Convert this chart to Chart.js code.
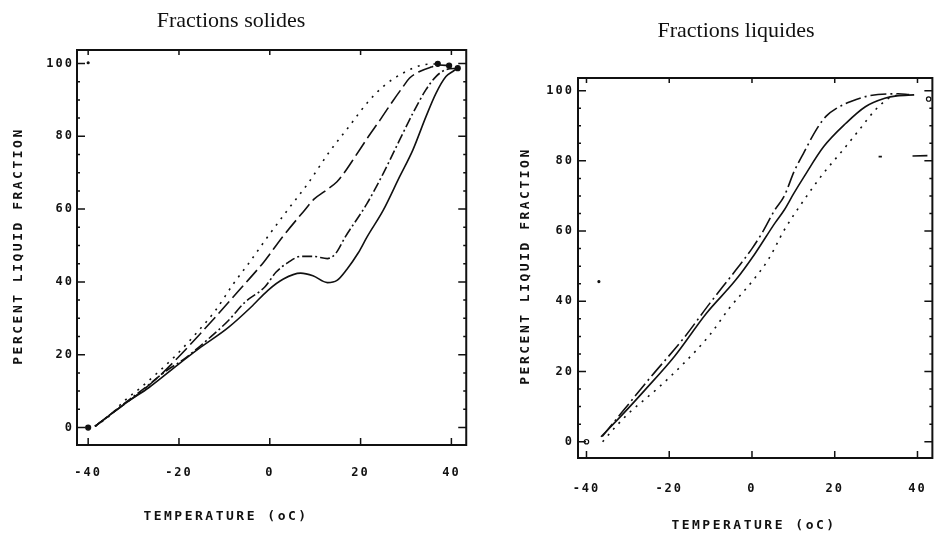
<!DOCTYPE html>
<html>
<head>
<meta charset="utf-8">
<script src="https://cdn.jsdelivr.net/npm/chart.js@4.4.1/dist/chart.umd.min.js"></script>
<style>
html, body { margin: 0; padding: 0; background: #fff; }
#zone { position: relative; width: 949px; height: 534px; overflow: hidden; }
canvas { position: absolute; top: 0; }
#solides { left: 0; }
#liquides { left: 480px; }
</style>
</head>
<body>
<div id="zone">
  <canvas id="solides" width="480" height="534"></canvas>
  <canvas id="liquides" width="469" height="534"></canvas>
</div>
<script>
// graduations des axes
const xTicks = [-40, -20, 0, 20, 40];
const yTicks = [0, 20, 40, 60, 80, 100];
const yMinor = [5, 10, 15, 25, 30, 35, 45, 50, 55, 65, 70, 75, 85, 90, 95];

// Fractions solides : [temperature, % liquide]
const solPlein = [[-38.5,0.3],[-37.4,1.4],[-31.4,7.0],[-26.6,11.0],[-20,17.5],[-15.7,21.6],[-9.1,27.5],[-4.1,33.1],[-0.4,37.7],[3,40.8],[6.8,42.4],[9.5,41.7],[12.7,39.8],[14.8,40.4],[17,43.5],[19.5,48],[21.4,52.3],[25,59.7],[28.6,68.9],[31.5,76.2],[34.4,85.4],[36.6,91.8],[38.8,96.4],[40.3,97.8],[41.4,98.7]];
const solTiretPoint = [[-38.5,0.3],[-31,7.6],[-26.9,11.5],[-22.9,15.5],[-18.9,18.8],[-13.1,24.8],[-9.1,29.4],[-5.5,34.4],[-1.1,38.6],[1.4,42.7],[4,45.3],[6.8,47.0],[9.6,47.0],[12.7,46.4],[14.5,47.8],[16.6,52.3],[21.4,61.5],[25,69.8],[28.6,79],[31.5,86.3],[34.4,92.8],[36.6,96.4],[38.8,98.3],[41.4,98.7]];
const solTiretLong = [[-38.5,0.3],[-33,5.5],[-28.4,9.8],[-24,14.5],[-20,19.5],[-15.5,25.5],[-12.3,29.9],[-6.9,37.5],[-1.3,45.5],[2.9,52.5],[7.4,59.3],[9.8,62.8],[12,64.8],[14.8,67.5],[16.3,69.8],[18.8,74.4],[21.5,79.5],[24.3,84.5],[27,89.5],[29.4,93.7],[30.8,96],[33,97.8],[35.5,99],[37.3,99.6],[39.5,99.4]];
const solPointille = [[-38.5,0.3],[-35,3.5],[-32.4,6.9],[-28.4,11.0],[-24.5,15.3],[-20.7,19.8],[-15.7,26.6],[-12,32.1],[-8,39.5],[-4.4,45.5],[-0.4,52.5],[3.9,59.7],[8.5,67.2],[13,75.5],[17.4,82.6],[21.4,89.1],[25,93.7],[29.4,97.4],[33.7,99.6],[37,99.9]];
const solPoints = [[-40,0],[37,99.9],[39.5,99.4],[41.4,98.7]];
const solTaches = [[-40,100.2]];

// Fractions liquides
const liqPlein = [[-36.5,1.4],[-31.5,7.5],[-25.9,14.7],[-18.8,24.2],[-11,36.6],[-3.9,46.1],[0.8,53.7],[5.5,62.2],[7.8,66.0],[10,70.5],[12.6,75.5],[17.3,84.0],[22.7,90.7],[27.4,95.4],[32.1,97.8],[35,98.5],[39.2,98.8]];
const liqTiret = [[-36.2,1.5],[-31,9.0],[-24.7,18.1],[-16.5,29.5],[-10.2,39.4],[-3.9,48.9],[0,55],[2.4,59.4],[5.5,66],[7.8,70.0],[10.2,77.0],[12.6,82.5],[15.7,89.2],[18,92.8],[20.5,95.0],[23.9,96.9],[28.2,98.5],[35.3,99.1],[38,98.9]];
const liqPointille = [[-36.1,0],[-33,4.2],[-29.8,8.1],[-22.8,15.2],[-16.5,22.3],[-10.2,30.4],[-5.5,38.0],[0,45.6],[3.9,51.8],[7.8,60.3],[12.6,68.9],[17.3,76.5],[22,83.1],[25.9,88.8],[29.8,94.5],[33,97.8],[35.3,98.8]];
const liqCercles = [[-40,0],[42.7,97.6]];
const liqTaches = [[-37,45.6]];
const liqTraits = [[30.6,81.2],[31.4,81.2],[35,null],[38.8,81.4],[42.4,81.5]];

const NOIR = '#111';
const toXY = arr => arr.map(p => ({ x: p[0], y: p[1] }));

// cadre, petites graduations internes et textes
const cadre = {
  id: 'cadre',
  beforeDraw(chart) {
    chart.ctx.letterSpacing = '2px';
  },
  afterDraw(chart, args, opts) {
    const ctx = chart.ctx;
    const a = chart.chartArea;
    const sx = chart.scales.x, sy = chart.scales.y;
    ctx.save();
    ctx.letterSpacing = '0px';
    ctx.strokeStyle = NOIR;
    ctx.lineWidth = 2;
    ctx.strokeRect(a.left, a.top, a.right - a.left, a.bottom - a.top);
    ctx.lineWidth = 1.5;
    ctx.beginPath();
    xTicks.forEach(v => {
      const px = sx.getPixelForValue(v);
      ctx.moveTo(px, a.bottom); ctx.lineTo(px, a.bottom - 7);
      ctx.moveTo(px, a.top); ctx.lineTo(px, a.top + 5);
    });
    yTicks.forEach(v => {
      const py = sy.getPixelForValue(v);
      ctx.moveTo(a.left, py); ctx.lineTo(a.left + 8, py);
      ctx.moveTo(a.right, py); ctx.lineTo(a.right - 8, py);
    });
    yMinor.forEach(v => {
      const py = sy.getPixelForValue(v);
      ctx.moveTo(a.left, py); ctx.lineTo(a.left + 3, py);
      ctx.moveTo(a.right, py); ctx.lineTo(a.right - 3, py);
    });
    ctx.stroke();

    ctx.fillStyle = NOIR;
    ctx.textAlign = 'center';
    ctx.textBaseline = 'middle';
    ctx.font = '22px "Liberation Serif", "Times New Roman", serif';
    ctx.fillText(opts.titre, opts.titrePos[0], opts.titrePos[1]);

    ctx.letterSpacing = '2.5px';
    ctx.font = 'bold 13px "DejaVu Sans Mono", monospace';
    ctx.fillText('TEMPERATURE (oC)', opts.xTitrePos[0], opts.xTitrePos[1]);
    ctx.translate(opts.yTitrePos[0], opts.yTitrePos[1]);
    ctx.rotate(-Math.PI / 2);
    ctx.fillText('PERCENT LIQUID FRACTION', 0, 0);
    ctx.restore();
    ctx.letterSpacing = '0px';
  }
};

function courbe(pts, dash) {
  return {
    data: toXY(pts),
    borderColor: NOIR,
    borderWidth: 1.6,
    borderDash: dash,
    pointRadius: 0,
    fill: false,
    cubicInterpolationMode: 'monotone'
  };
}

function points(pts, rayon, plein, style) {
  return {
    type: 'scatter',
    data: toXY(pts),
    pointRadius: rayon,
    pointStyle: style || 'circle',
    pointBorderWidth: 1.2,
    pointBorderColor: NOIR,
    pointBackgroundColor: plein ? NOIR : '#fff',
    showLine: false
  };
}

function options(c) {
  const tickFont = { family: '"DejaVu Sans Mono", monospace', size: 12, weight: 'bold' };
  return {
    responsive: false,
    animation: false,
    events: [],
    layout: { padding: { left: 0, top: c.haut, right: c.droite, bottom: 0 } },
    plugins: {
      legend: { display: false },
      tooltip: { enabled: false },
      cadre: c.textes
    },
    scales: {
      x: {
        type: 'linear', min: c.xMin, max: c.xMax,
        afterBuildTicks: s => { s.ticks = xTicks.map(v => ({ value: v })); },
        afterFit: s => { s.height = c.basH; },
        grid: { display: false, drawTicks: false }, border: { display: false },
        ticks: { font: tickFont, color: NOIR, padding: c.xPad, maxRotation: 0, autoSkip: false }
      },
      y: {
        type: 'linear', min: c.yMin, max: c.yMax,
        afterBuildTicks: s => { s.ticks = yTicks.map(v => ({ value: v })); },
        afterFit: s => { s.width = c.gauche; },
        grid: { display: false, drawTicks: false }, border: { display: false },
        ticks: { font: tickFont, color: NOIR, padding: c.yPad, autoSkip: false }
      }
    }
  };
}

new Chart(document.getElementById('solides'), {
  type: 'line',
  data: {
    datasets: [
      courbe(solPlein, []),
      courbe(solTiretPoint, [10, 3, 2, 3]),
      courbe(solTiretLong, [16, 5]),
      courbe(solPointille, [2, 6]),
      points(solPoints, 2.5, true),
      points(solTaches, 1, true)
    ]
  },
  options: options({
    xMin: -42.46, xMax: 43.27, yMin: -4.8, yMax: 103.7,
    gauche: 77, droite: 10, haut: 50, basH: 89, xPad: 21, yPad: 3,
    textes: { titre: 'Fractions solides', titrePos: [231, 21], xTitrePos: [226, 517], yTitrePos: [19, 246] }
  }),
  plugins: [cadre]
});

const traits = courbe(liqTraits, []);
traits.spanGaps = false;
traits.cubicInterpolationMode = 'default';

new Chart(document.getElementById('liquides'), {
  type: 'line',
  data: {
    datasets: [
      courbe(liqPlein, []),
      courbe(liqTiret, [16, 4, 2, 4]),
      courbe(liqPointille, [2, 6]),
      traits,
      points(liqCercles, 2.2, false),
      points(liqTaches, 1, true)
    ]
  },
  options: options({
    xMin: -42.05, xMax: 43.6, yMin: -4.64, yMax: 103.6,
    gauche: 98, droite: 7, haut: 78, basH: 76, xPad: 24, yPad: 4,
    textes: { titre: 'Fractions liquides', titrePos: [256, 31], xTitrePos: [274, 526], yTitrePos: [46, 266] }
  }),
  plugins: [cadre]
});
</script>
</body>
</html>
